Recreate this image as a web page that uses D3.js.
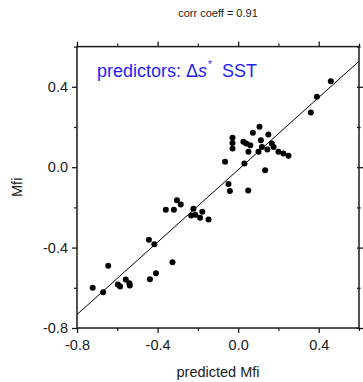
<!DOCTYPE html>
<html>
<head>
<meta charset="utf-8">
<script src="https://cdn.jsdelivr.net/npm/d3@7"></script>
<style>
  body { margin: 0; background: #fff; }
  svg { display: block; font-family: "Liberation Sans", Arial, sans-serif; }
</style>
</head>
<body>
<script>
const width = 363;
const height = 382;
const margin = {top: 46.6, right: 4, bottom: 54, left: 77};

// predicted Mfi (x) and observed Mfi (y)
const predicted = [0.46, 0.391, 0.361,
  0.106, 0.073, 0.15, -0.028, -0.028, -0.028, 0.026, 0.04, 0.06, 0.113, 0.167, 0.176,
  0.118, 0.145, 0.101, 0.051, 0.2, 0.225, 0.25, -0.065, 0.031, 0.134,
  -0.048, -0.041, 0.05,
  -0.304, -0.285, -0.359, -0.319, -0.222, -0.233, -0.213, -0.189, -0.178, -0.147,
  -0.443, -0.416, -0.326, -0.645, -0.438, -0.408,
  -0.558, -0.597, -0.586, -0.54, -0.538, -0.722, -0.67];
const observed = [0.428, 0.35, 0.272,
  0.201, 0.171, 0.163, 0.146, 0.121, 0.093, 0.126, 0.118, 0.109, 0.134, 0.118, 0.101,
  0.101, 0.088, 0.077, 0.077, 0.077, 0.068, 0.057, 0.027, 0.018, -0.015,
  -0.083, -0.119, -0.116,
  -0.164, -0.186, -0.212, -0.212, -0.207, -0.24, -0.237, -0.252, -0.222, -0.26,
  -0.361, -0.383, -0.473, -0.49, -0.557, -0.527,
  -0.559, -0.584, -0.594, -0.577, -0.589, -0.6, -0.622];

// fitted line y = slope * x + intercept
const fitSlope = 0.9;
const fitIntercept = -0.013;

const xDomain = [-0.8, 0.6];
const yDomain = [-0.8, 0.6];
const majorTicks = [-0.8, -0.4, 0.0, 0.4];
const minorTicks = [-0.6, -0.2, 0.2, 0.6];

const title = 'corr coeff = 0.91';
const xLabel = 'predicted Mfi';
const yLabel = 'Mfi';

const svg = d3.select('body').append('svg')
    .attr('width', width)
    .attr('height', height);

const x = d3.scaleLinear().domain(xDomain).range([margin.left, width - margin.right]);
const y = d3.scaleLinear().domain(yDomain).range([height - margin.bottom, margin.top]);

const textColor = '#1a1a1a';
// plain hyphen for negatives, like the original
const fmt = d => d3.format('.1f')(d).replace('\u2212', '-');

// axes: major ticks labelled, minor ticks short
function drawAxis(axisFn, scale, translate, size, labels) {
    const g = svg.append('g').attr('transform', translate);
    g.call(axisFn(scale).tickValues(majorTicks).tickSize(size).tickSizeOuter(0)
        .tickFormat(labels ? fmt : ''));
    g.select('.domain').remove();
    g.selectAll('.tick line').attr('stroke', textColor).attr('stroke-width', 1.3);
    g.selectAll('.tick text').attr('fill', textColor).attr('font-size', 14.5)
        .attr('font-family', '"Liberation Sans", Arial, sans-serif');
    const m = svg.append('g').attr('transform', translate);
    m.call(axisFn(scale).tickValues(minorTicks).tickSize(size * 0.6).tickSizeOuter(0).tickFormat(''));
    m.select('.domain').remove();
    m.selectAll('.tick line').attr('stroke', textColor).attr('stroke-width', 1.2);
    return g;
}

const gx = drawAxis(d3.axisBottom, x, `translate(0,${y(-0.8)})`, 5, true);
gx.selectAll('.tick text').attr('dy', '1.05em').attr('y', 7);
drawAxis(d3.axisTop, x, `translate(0,${y(0.6)})`, 5, false);
const gy = drawAxis(d3.axisLeft, y, `translate(${x(-0.8)},0)`, 5, true);
gy.selectAll('.tick text').attr('x', -9);
drawAxis(d3.axisRight, y, `translate(${x(0.6) - 2},0)`, 6, false);

// frame
svg.append('rect')
    .attr('x', x(-0.8))
    .attr('y', y(0.6))
    .attr('width', x(0.6) - x(-0.8))
    .attr('height', y(-0.8) - y(0.6))
    .attr('fill', 'none')
    .attr('stroke', textColor)
    .attr('stroke-width', 1.5);

// fit line
svg.append('line')
    .attr('x1', x(xDomain[0]))
    .attr('y1', y(fitSlope * xDomain[0] + fitIntercept))
    .attr('x2', x(xDomain[1]))
    .attr('y2', y(fitSlope * xDomain[1] + fitIntercept))
    .attr('stroke', '#000')
    .attr('stroke-width', 1);

// points
svg.append('g').selectAll('circle')
    .data(d3.zip(predicted, observed))
    .join('circle')
    .attr('cx', d => x(d[0]))
    .attr('cy', d => y(d[1]))
    .attr('r', 3)
    .attr('fill', '#000');

// title
svg.append('text')
    .attr('x', x(-0.1))
    .attr('y', 17)
    .attr('text-anchor', 'middle')
    .attr('font-size', 11)
    .attr('fill', textColor)
    .text(title);

// axis labels
svg.append('text')
    .attr('x', x(-0.1))
    .attr('y', 377)
    .attr('text-anchor', 'middle')
    .attr('font-size', 14.5)
    .attr('fill', textColor)
    .text(xLabel);

svg.append('text')
    .attr('transform', `translate(22,${y(-0.1)}) rotate(-90)`)
    .attr('text-anchor', 'middle')
    .attr('font-size', 14.5)
    .attr('fill', textColor)
    .text(yLabel);

// predictors note
const note = svg.append('text')
    .attr('x', 97)
    .attr('y', 77)
    .attr('font-size', 18)
    .attr('fill', '#1f1ff5');
note.append('tspan').text('predictors: \u0394');
note.append('tspan').attr('font-style', 'italic').text('s');
note.append('tspan').attr('font-size', 10).attr('dy', -9).attr('dx', 1).text('*');
note.append('tspan').attr('dy', 9).attr('dx', 10).text('SST');
</script>
</body>
</html>
